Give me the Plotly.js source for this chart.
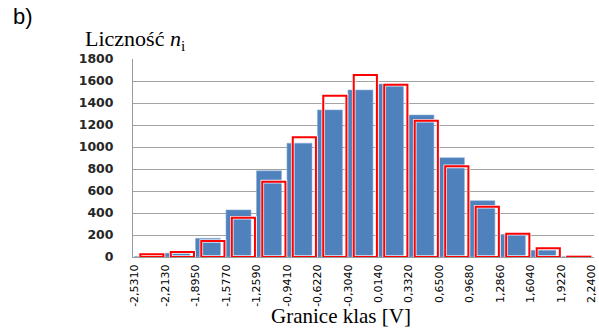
<!DOCTYPE html>
<html>
<head>
<meta charset="utf-8">
<script src="https://cdn.plot.ly/plotly-3.0.1.min.js"></script>
<style>html,body{margin:0;padding:0;background:#fff;}#chart{width:599px;height:331px;}</style>
</head>
<body>
<div id="chart"></div>
<script>
// Class boundaries (tick labels) and class counts
const boundaries = ["-2,5310","-2,2130","-1,8950","-1,5770","-1,2590","-0,9410","-0,6220","-0,3040","0,0140","0,3320","0,6500","0,9680","1,2860","1,6040","1,9220","2,2400"];
const classIndex = [0,1,2,3,4,5,6,7,8,9,10,11,12,13,14];
const measured = [5,35,170,428,783,1035,1337,1518,1573,1291,903,512,206,61,2];
const theoretical = [25,45,145,357,685,1088,1467,1655,1567,1239,824,457,212,79,3];
const tickPositions = boundaries.map((_, i) => i);
const yTicks = [0,200,400,600,800,1000,1200,1400,1600,1800];

const L = 133, R = 594, T = 59, B = 257;
const px = v => (v - L) / (R - L);
const py = v => (B - v) / (B - T);

const traces = [
  {
    type: 'bar', x: classIndex, y: measured,
    offset: 0.0, width: 0.82,
    marker: {color: '#4f81bd', line: {color: '#8fb0dc', width: 0.6}},
    hoverinfo: 'skip', showlegend: false
  },
  {
    type: 'bar', x: classIndex, y: theoretical,
    offset: 0.19, width: 0.76,
    marker: {color: 'rgba(0,0,0,0)', line: {color: 'rgba(255,255,255,0.85)', width: 3.6}},
    hoverinfo: 'skip', showlegend: false
  },
  {
    type: 'bar', x: classIndex, y: theoretical,
    offset: 0.19, width: 0.76,
    marker: {color: 'rgba(0,0,0,0)', line: {color: '#ff0000', width: 2}},
    hoverinfo: 'skip', showlegend: false
  }
];

const layout = {
  width: 599, height: 331,
  margin: {l: L, r: 599 - R, t: T, b: 331 - B, pad: 0},
  paper_bgcolor: '#ffffff', plot_bgcolor: '#ffffff',
  barmode: 'overlay',
  showlegend: false,
  xaxis: {
    range: [-0.05, 15.07],
    tickmode: 'array', tickvals: tickPositions, ticktext: boundaries,
    tickangle: -90,
    tickfont: {family: 'DejaVu Sans', size: 11, color: '#000000'},
    ticks: '', showgrid: false, zeroline: false,
    showline: true, linecolor: '#9a9a9a', linewidth: 1,
    ticklabelstandoff: 2,
    fixedrange: true
  },
  yaxis: {
    range: [0, 1800],
    tickmode: 'array', tickvals: yTicks, ticktext: yTicks.map(String),
    tickfont: {family: 'DejaVu Sans', size: 12.5, color: '#262626', weight: 'bold'},
    ticks: '', showgrid: true, gridcolor: '#a3a3a3', gridwidth: 1,
    zeroline: false, showline: true, linecolor: '#9a9a9a', linewidth: 1,
    ticklabelstandoff: 16,
    fixedrange: true
  },
  annotations: [
    {text: 'b)', xref: 'paper', yref: 'paper', x: px(11), y: py(16), xanchor: 'left', yanchor: 'middle',
     showarrow: false, font: {family: 'Liberation Sans', size: 22, color: '#000'}},
    {text: 'Liczność <i>n</i><sub>i</sub>', xref: 'paper', yref: 'paper', x: px(83), y: py(40), xanchor: 'left', yanchor: 'middle',
     showarrow: false, font: {family: 'Liberation Serif', size: 22, color: '#000'}},
    {text: 'Granice klas [V]', xref: 'paper', yref: 'paper', x: px(341), y: py(316), xanchor: 'center', yanchor: 'middle',
     showarrow: false, font: {family: 'Liberation Serif', size: 21, color: '#000'}}
  ]
};

Plotly.newPlot('chart', traces, layout, {staticPlot: true, displayModeBar: false});
</script>
</body>
</html>
